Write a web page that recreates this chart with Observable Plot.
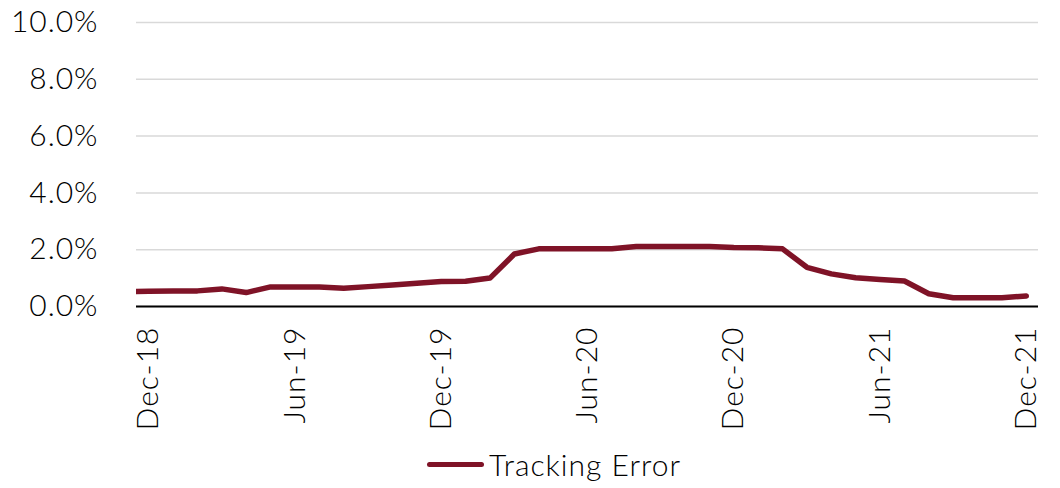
<!DOCTYPE html>
<html><head><meta charset="utf-8">
<script src="https://cdn.jsdelivr.net/npm/d3@7"></script>
<script src="https://cdn.jsdelivr.net/npm/@observablehq/plot@0.6"></script>
<style>
body{margin:0;background:#fff;font-family:Lato,sans-serif;}
#chart{width:1060px;height:488px;position:relative;overflow:hidden;}
#chart svg text{letter-spacing:1px;font-weight:300;}
.legend{position:absolute;left:0;top:444px;width:1060px;height:40px;display:flex;justify-content:center;align-items:center;font-size:30px;color:#000;font-family:Lato,sans-serif;font-weight:300;letter-spacing:1px;}
.legend .inner{display:flex;align-items:center;margin-left:48px;}
.swatch{width:57px;height:5px;background:#7f1327;border-radius:3px;margin-right:5px;}
</style></head><body><div id="chart"></div>
<script>
const months = ["2018-11","2018-12","2019-01","2019-02","2019-03","2019-04","2019-05","2019-06","2019-07","2019-08","2019-09","2019-10","2019-11","2019-12","2020-01","2020-02","2020-03","2020-04","2020-05","2020-06","2020-07","2020-08","2020-09","2020-10","2020-11","2020-12","2021-01","2021-02","2021-03","2021-04","2021-05","2021-06","2021-07","2021-08","2021-09","2021-10","2021-11","2021-12"];
const trackingError = [0.52,0.54,0.55,0.55,0.62,0.49,0.69,0.69,0.69,0.64,0.70,0.76,0.82,0.88,0.89,1.00,1.85,2.03,2.03,2.03,2.03,2.11,2.11,2.11,2.11,2.08,2.07,2.03,1.38,1.15,1.01,0.95,0.90,0.45,0.31,0.31,0.31,0.37];
const tickLabels = ["Dec-18","Jun-19","Dec-19","Jun-20","Dec-20","Jun-21","Dec-21"];
const yTicks = [0,2,4,6,8,10];
const seriesName = "Tracking Error";
const color = "#7f1327";

const monthIdx = s => { const [y,m] = s.split("-").map(Number); return (y-2018)*12 + (m-12); };
const labelIdx = s => { const mo = {Jun:6,Dec:12}[s.slice(0,3)]; const y = 2000 + +s.slice(4); return (y-2018)*12 + (mo-12); };
const data = months.map((m,i)=>({m: monthIdx(m), v: trackingError[i]}));
const xTicks = tickLabels.map(labelIdx);

const chart = Plot.plot({
  width:1060, height:444,
  marginLeft:136, marginRight:22, marginTop:22, marginBottom:138,
  style:{fontFamily:"Lato, sans-serif", fontSize:"30px", color:"#000", background:"#fff"},
  x:{type:"linear", domain:[xTicks[0]-0.5, xTicks[xTicks.length-1]+0.5], label:null},
  y:{domain:[0,10], label:null},
  marks:[
    Plot.gridY(yTicks,{stroke:"#d9d9d9", strokeOpacity:1, strokeWidth:1.5}),
    Plot.axisY(yTicks,{tickSize:0, tickPadding:38, tickFormat:d=>d.toFixed(1)+"%", fontSize:30, label:null}),
    Plot.axisX(xTicks,{tickSize:0, tickRotate:-90, tickPadding:20, tickFormat:d=>tickLabels[xTicks.indexOf(d)], fontSize:30, label:null}),
    Plot.line(data,{x:"m", y:"v", stroke:color, strokeWidth:5.5, clip:true, strokeLinejoin:"round", strokeLinecap:"round"}),
    Plot.ruleY([0],{stroke:"#000", strokeWidth:2})
  ]
});
const root = document.getElementById("chart");
root.appendChild(chart);
const lg = document.createElement("div");
lg.className = "legend";
lg.innerHTML = `<span class="inner"><span class="swatch"></span><span>${seriesName}</span></span>`;
root.appendChild(lg);
</script></body></html>
